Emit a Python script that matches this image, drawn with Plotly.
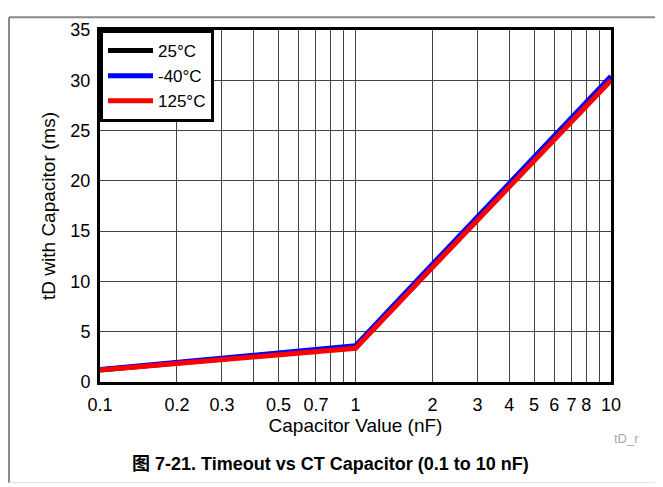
import plotly.graph_objects as go

# Capacitor values (nF) and tD readings (ms)
cap_nf = [0.1, 0.2, 0.5, 1, 2, 4, 10]
td_25c = [1.2, 1.9, 2.8, 3.4, 11.5, 19.5, 30.1]
td_m40c = [1.25, 1.95, 2.9, 3.6, 11.7, 19.8, 30.4]
td_125c = [1.2, 1.85, 2.75, 3.35, 11.4, 19.4, 30.0]

x_tick_vals = [0.1, 0.2, 0.3, 0.5, 0.7, 1, 2, 3, 4, 5, 6, 7, 8, 10]
x_tick_text = ["0.1", "0.2", "0.3", "0.5", "0.7", "1", "2", "3", "4", "5", "6", "7", "8", "10"]
x_minor_vals = [0.4, 0.6, 0.8, 0.9, 9]

font = "Liberation Sans, Arial, sans-serif"
grid = "#444"

fig = go.Figure()
fig.add_trace(go.Scatter(x=cap_nf, y=td_25c, mode="lines", name="25°C",
                         line=dict(color="black", width=5)))
fig.add_trace(go.Scatter(x=cap_nf, y=td_m40c, mode="lines", name="-40°C",
                         line=dict(color="blue", width=5)))
fig.add_trace(go.Scatter(x=cap_nf, y=td_125c, mode="lines", name="125°C",
                         line=dict(color="red", width=5)))

fig.update_xaxes(type="log", range=[-1, 1], tickvals=x_tick_vals, ticktext=x_tick_text,
                 showgrid=True, gridcolor=grid, gridwidth=1,
                 minor=dict(tickvals=x_minor_vals, showgrid=True, gridcolor=grid, gridwidth=1, ticks=""),
                 showline=True, linecolor="black", linewidth=3, mirror=True,
                 ticks="", tickfont=dict(size=18, color="black"), ticklabelstandoff=4,
                 title=dict(text="Capacitor Value (nF)", font=dict(size=19, color="black"), standoff=2))
fig.update_yaxes(range=[0, 35], dtick=5, showgrid=True, gridcolor=grid, gridwidth=1,
                 showline=True, linecolor="black", linewidth=3, mirror=True, zeroline=False,
                 ticks="", tickfont=dict(size=18, color="black"), ticklabelstandoff=3,
                 title=dict(text="tD with Capacitor (ms)", font=dict(size=19, color="black"), standoff=10))

# page body adds an 8px offset, so the figure is drawn 8px smaller and shifted
fig.update_layout(
    width=655, height=479,
    margin=dict(l=92, r=52, t=14, b=105),
    paper_bgcolor="white", plot_bgcolor="white",
    font=dict(family=font, color="black"),
    showlegend=True,
    legend=dict(x=0, y=1, xanchor="left", yanchor="top", bordercolor="black", borderwidth=3,
                bgcolor="white", font=dict(size=17), tracegroupgap=0, itemwidth=45),
    annotations=[
        dict(text="<b>图 7-21. Timeout vs CT Capacitor (0.1 to 10 nF)</b>", xref="paper", yref="paper",
             x=0.452, y=-0.233, xanchor="center", yanchor="middle", showarrow=False,
             font=dict(size=18, color="black", family=font + ", Noto Sans CJK SC")),
        dict(text="tD_r", xref="paper", yref="paper", x=1.002, y=-0.161, xanchor="left", yanchor="middle",
             showarrow=False, font=dict(size=13, color="#aaa")),
    ],
    shapes=[
        dict(type="line", xref="paper", yref="paper", x0=-0.178, x1=-0.178, y0=-0.286, y1=1.036,
             line=dict(color="#888", width=2)),
        dict(type="line", xref="paper", yref="paper", x0=-0.178, x1=1.102, y0=1.036, y1=1.036,
             line=dict(color="#888", width=2)),
        dict(type="line", xref="paper", yref="paper", x0=-0.178, x1=1.102, y0=-0.286, y1=-0.286,
             line=dict(color="#ddd", width=1)),
    ],
)

fig.write_html("out.html")
